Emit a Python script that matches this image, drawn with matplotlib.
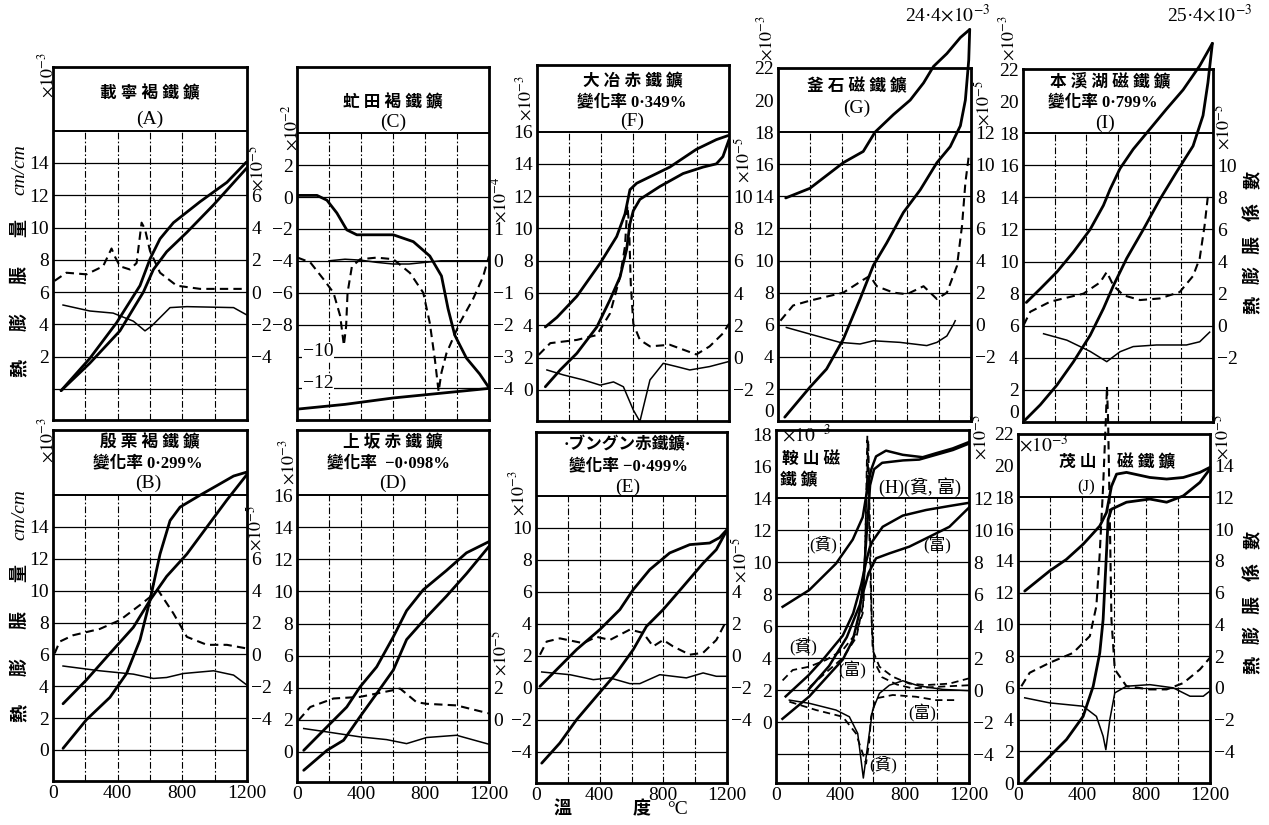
import numpy as np
import matplotlib.pyplot as plt

plt.rcParams['font.family'] = ['Liberation Serif', 'Noto Sans CJK TC', 'DejaVu Sans']
plt.rcParams['mathtext.fontset'] = 'stix'

# ---- data: expansion (left scale) and coefficient (right scale) curves ----
# A 載寧褐鐵鑛
A_heat_t = [50, 228, 393, 538, 600, 662, 745, 910, 1076, 1196]
A_heat = [-0.1, 1.9, 4.1, 6.4, 8.05, 9.3, 10.3, 11.6, 12.8, 14.05]
A_cool_t = [50, 228, 414, 559, 621, 703, 828, 993, 1200]
A_cool = [-0.1, 1.6, 3.6, 6.0, 7.4, 8.5, 9.7, 11.4, 13.7]
A_dash_t = [10, 83, 207, 310, 362, 383, 414, 476, 517, 548, 569, 600, 662, 765, 910, 1200]
A_dash = [0.7, 1.2, 1.1, 1.6, 2.7, 2.2, 1.6, 1.4, 1.8, 4.3, 3.9, 2.55, 1.2, 0.4, 0.2, 0.2]
A_thin_t = [62, 228, 372, 497, 569, 610, 724, 828, 1117, 1196]
A_thin = [-0.8, -1.17, -1.3, -1.8, -2.4, -2.1, -0.96, -0.9, -0.96, -1.4]

# C 虻田褐鐵鑛
C_heat_t = [0, 125, 187, 249, 311, 374, 602, 727, 830, 903, 944, 986, 1059, 1142, 1200]
C_heat = [0.1, 0.1, -0.2, -1.0, -2.06, -2.37, -2.37, -2.8, -3.7, -4.95, -7.0, -8.66, -10.1, -11.1, -11.96]
C_cool_t = [0, 300, 600, 900, 1200]
C_cool = [-13.3, -13.0, -12.6, -12.3, -12.0]
C_dash_t = [4, 83, 166, 228, 270, 293, 307, 316, 343, 395, 498, 602, 706, 789, 830, 862, 885,
            903, 934, 1017, 1100, 1163, 1200]
C_dash = [0.1, -0.05, -0.58, -1.0, -1.73, -2.65, -2.05, -1.0, -0.18, 0.05, 0.1, 0.05, -0.38, -1.0,
          -1.95, -3.1, -4.1, -3.5, -2.9, -1.95, -1.2, -0.5, 0.15]
C_thin_t = [200, 300, 400, 500, 600, 700, 800, 900, 1200]
C_thin = [0.0, 0.05, 0.02, -0.05, -0.1, -0.1, -0.05, 0.0, 0.0]

# F 大冶赤鐵鑛
F_heat_t = [52, 125, 249, 395, 498, 550, 581, 623, 706, 830, 996, 1121, 1194]
F_heat = [3.9, 4.5, 5.8, 7.85, 9.5, 10.9, 12.4, 12.8, 13.2, 13.8, 14.9, 15.5, 15.75]
F_cool_t = [52, 145, 249, 374, 457, 519, 560, 581, 602, 643, 768, 913, 1038, 1121, 1162, 1200]
F_cool = [0.2, 1.24, 2.27, 3.9, 5.6, 7.0, 8.7, 10.3, 11.1, 11.8, 12.6, 13.4, 13.8, 14.0, 14.45, 15.5]
F_dash_t = [10, 83, 249, 374, 457, 519, 550, 565, 575, 586, 602, 643, 706, 830, 913, 996, 1079, 1162, 1200]
F_dash = [0.17, 0.9, 1.1, 1.4, 2.75, 5.0, 6.9, 9.4, 8.3, 4.6, 2.1, 1.1, 0.7, 0.8, 0.5, 0.2, 0.7, 1.5, 2.1]
F_thin_t = [62, 166, 291, 395, 478, 540, 602, 643, 706, 789, 872, 955, 1079, 1194]
F_thin = [-0.76, -1.07, -1.38, -1.7, -1.5, -1.8, -3.24, -3.95, -1.38, -0.35, -0.55, -0.76, -0.55, -0.25]

# G 釜石磁鐵鑛
G_heat_t = [42, 198, 302, 406, 510, 593, 676, 780, 884, 988, 1071, 1134, 1165, 1186, 1192]
G_heat = [0.24, 2.1, 3.24, 5.1, 7.6, 9.7, 11.1, 13.0, 14.4, 16.1, 17.1, 18.4, 20.0, 22.5, 24.4]
G_cool_t = [48, 198, 406, 530, 603, 718, 822, 905, 967, 1050, 1134, 1192]
G_cool = [13.9, 14.5, 16.1, 16.8, 18.0, 19.1, 20.0, 21.07, 22.1, 22.9, 23.9, 24.4]
G_dash_t = [15, 94, 198, 406, 530, 572, 614, 718, 801, 905, 988, 1050, 1113, 1144, 1165, 1186]
G_dash = [0.25, 1.2, 1.5, 2.0, 2.8, 3.05, 2.4, 2.0, 1.9, 2.4, 1.6, 2.0, 3.67, 6.15, 8.85, 10.5]
G_thin_t = [52, 198, 385, 510, 593, 759, 925, 988, 1050, 1092, 1102]
G_thin = [-0.17, -0.58, -1.1, -1.2, -1.0, -1.1, -1.3, -1.1, -0.7, 0.04, 0.25]

# I 本溪湖磁鐵鑛
I_heat_t = [15, 109, 214, 319, 424, 508, 571, 655, 760, 866, 971, 1074, 1137, 1168, 1196]
I_heat = [0.14, 1.07, 2.3, 3.76, 5.4, 7.07, 8.5, 10.2, 12.0, 13.9, 15.6, 17.2, 19.1, 21.15, 23.6]
I_cool_t = [21, 109, 214, 319, 424, 508, 550, 613, 696, 801, 906, 1011, 1116, 1179, 1196]
I_cool = [7.45, 8.3, 9.35, 10.6, 12.0, 13.5, 14.5, 15.8, 17.0, 18.25, 19.5, 20.7, 22.2, 23.3, 23.6]
I_dash_t = [4, 46, 172, 382, 487, 529, 571, 634, 739, 864, 990, 1074, 1116, 1147, 1168]
I_dash = [0.04, 0.87, 1.5, 2.0, 2.7, 3.35, 2.5, 1.9, 1.6, 1.7, 2.1, 3.1, 4.2, 6.25, 8.1]
I_thin_t = [130, 277, 424, 529, 613, 696, 843, 1032, 1116, 1179]
I_thin = [-0.5, -0.9, -1.6, -2.24, -1.62, -1.3, -1.2, -1.2, -1.0, -0.4]

# B 殷栗褐鐵鑛
B_heat_t = [62, 207, 352, 455, 538, 600, 662, 724, 786, 910, 1014, 1117, 1200]
B_heat = [0.1, 1.9, 3.3, 4.8, 6.9, 9.4, 12.3, 14.4, 15.25, 16.0, 16.6, 17.2, 17.45]
B_cool_t = [62, 207, 352, 497, 600, 703, 828, 952, 1076, 1200]
B_cool = [2.9, 4.4, 6.06, 7.7, 9.4, 10.9, 12.3, 14.0, 15.7, 17.3]
B_dash_t = [10, 41, 124, 290, 414, 538, 600, 621, 652, 745, 828, 952, 1076, 1200]
B_dash = [0.06, 0.8, 1.2, 1.6, 2.15, 3.1, 3.6, 4.45, 4.0, 2.57, 1.1, 0.6, 0.6, 0.37]
B_thin_t = [62, 290, 497, 621, 703, 807, 993, 1117, 1200]
B_thin = [-0.73, -1.03, -1.24, -1.51, -1.45, -1.2, -1.03, -1.3, -1.93]

# D 上坂赤鐵鑛
D_heat_t = [42, 187, 291, 394, 498, 602, 685, 810, 934, 1059, 1200]
D_heat = [-1.14, 0.1, 0.73, 2.2, 3.64, 5.1, 7.0, 8.4, 9.7, 11.1, 12.8]
D_cool_t = [42, 187, 311, 394, 498, 602, 685, 789, 934, 1059, 1200]
D_cool = [0.1, 1.56, 2.8, 4.05, 5.3, 7.17, 8.8, 10.1, 11.3, 12.4, 13.1]
D_dash_t = [10, 83, 228, 394, 602, 644, 747, 810, 997, 1200]
D_dash = [-0.02, 0.8, 1.33, 1.43, 1.85, 1.95, 1.1, 1.0, 0.9, 0.4]
D_thin_t = [42, 187, 394, 560, 685, 810, 997, 1200]
D_thin = [-0.54, -0.75, -1.06, -1.23, -1.48, -1.1, -0.96, -1.52]

# E ブングン赤鐵鑛
E_heat_t = [36, 150, 255, 380, 506, 611, 694, 799, 925, 1050, 1133, 1196]
E_heat = [-4.7, -3.44, -1.98, -0.52, 0.94, 2.4, 3.85, 4.9, 6.35, 7.8, 8.65, 9.8]
E_cool_t = [25, 150, 255, 401, 527, 611, 715, 840, 966, 1091, 1154, 1200]
E_cool = [0.1, 1.35, 2.4, 3.65, 4.9, 6.15, 7.4, 8.44, 8.96, 9.06, 9.4, 9.9]
E_dash_t = [25, 67, 150, 297, 380, 464, 590, 673, 736, 799, 861, 966, 1050, 1133, 1196]
E_dash = [0.08, 0.9, 1.1, 0.8, 1.2, 1.0, 1.65, 1.44, 0.6, 1.0, 0.6, 0.08, 0.2, 1.0, 2.2]
E_thin_t = [36, 213, 360, 464, 590, 652, 778, 945, 1050, 1133, 1196]
E_thin = [-1.0, -1.17, -1.48, -1.37, -1.73, -1.73, -1.17, -1.37, -1.06, -1.27, -1.27]

# H 鞍山磁鐵鑛 (貧 = lean ore, 富 = rich ore)
H_poor_heat_t = [40, 207, 415, 477, 518, 545, 565, 585, 610, 660, 790, 890, 995, 1100, 1200]
H_poor_heat = [0.2, 1.6, 3.9, 5.1, 6.8, 9.0, 12.0, 14.8, 15.8, 16.2, 16.35, 16.4, 16.7, 17.0, 17.4]
H_poor_cool_t = [41, 207, 373, 477, 539, 570, 591, 622, 684, 788, 912, 995, 1099, 1200]
H_poor_cool = [7.2, 8.25, 9.9, 11.4, 12.8, 14.7, 15.75, 16.6, 16.96, 16.7, 16.55, 16.8, 17.1, 17.5]
H_rich_heat_t = [60, 200, 300, 415, 480, 530, 560, 580, 600, 663, 788, 933, 1078, 1200]
H_rich_heat = [1.6, 2.9, 4.0, 5.4, 6.8, 8.6, 10.0, 10.8, 11.3, 12.2, 12.9, 13.25, 13.5, 13.7]
H_rich_cool_t = [200, 330, 440, 520, 575, 622, 705, 829, 954, 1078, 1200]
H_rich_cool = [2.0, 3.5, 5.3, 7.3, 9.3, 10.23, 10.54, 10.96, 11.58, 12.2, 13.4]
H_poor_dash_t = [41, 104, 207, 311, 415, 497, 539, 555, 568, 580, 591, 601, 643, 726, 829, 933, 1078, 1200]
H_poor_dash = [0.6, 1.25, 1.46, 1.88, 2.5, 3.54, 4.79, 9.0, 15.9, 10.0, 5.6, 2.5, 1.46, 0.83, 0.4, 0.31, 0.4, 0.73]
H_rich_dash_t = [210, 300, 415, 500, 545, 562, 574, 586, 596, 610, 660, 750, 850, 1000, 1200]
H_rich_dash = [0.2, 1.0, 2.0, 3.3, 5.5, 12.0, 15.6, 9.0, 4.0, 1.8, 0.8, 0.35, 0.1, 0.2, 0.3]
H_rich_cdash_t = [83, 249, 415, 497, 539, 560, 580, 591, 622, 726, 871, 995, 1119]
H_rich_cdash = [-0.73, -1.25, -1.67, -2.71, -3.96, -4.6, -3.2, -1.67, -0.52, -0.31, -0.42, -0.63, -0.63]
H_poor_thin_t = [83, 207, 373, 456, 508, 543, 580, 601, 643, 705, 788, 891, 1037, 1200]
H_poor_thin = [-0.63, -0.83, -1.25, -1.67, -2.71, -5.5, -2.71, -1.25, -0.21, 0.3, 0.58, 0.25, 0.04, -0.04]

# J 茂山磁鐵鑛
J_heat_t = [42, 198, 303, 407, 470, 511, 532, 553, 563, 584, 678, 824, 929, 1033, 1137, 1200]
J_heat = [0.1, 1.68, 2.74, 4.2, 6.1, 8.2, 10.3, 14.5, 16.6, 17.26, 17.7, 17.9, 17.7, 18.1, 18.95, 19.8]
J_cool_t = [42, 198, 303, 407, 511, 553, 584, 616, 678, 824, 929, 1033, 1137, 1200]
J_cool = [12.1, 13.37, 14.1, 15.05, 16.2, 17.05, 18.7, 19.47, 19.58, 19.26, 19.16, 19.26, 19.58, 19.9]
J_dash_t = [21, 73, 198, 344, 449, 490, 511, 532, 549, 556, 563, 574, 584, 605, 678, 824, 929, 1033, 1137, 1200]
J_dash = [0.1, 0.95, 1.58, 2.2, 3.26, 5.16, 8.5, 12.7, 16.9, 19.0, 16.9, 10.6, 4.3, 1.16, 0.1, -0.1, -0.1, 0.3, 1.16, 1.9]
J_thin_t = [42, 198, 407, 490, 532, 549, 574, 605, 678, 824, 970, 1075, 1158, 1200]
J_thin = [-0.63, -0.95, -1.16, -1.8, -3.05, -3.9, -2.0, -0.32, 0.1, 0.2, 0.0, -0.53, -0.53, -0.2]

W, H = 1269, 825
fig = plt.figure(figsize=(W / 100, H / 100), dpi=100)


def label(x, y, s, size=14, **kw):
    kw.setdefault('ha', 'center')
    kw.setdefault('va', 'center')
    fig.text(x / W, 1 - y / H, s, fontsize=size, **kw)


def title(x, y, s, size=12):
    label(x, y, s, size, fontweight='bold')


def panel(box, ylim, sep, shift, factor, lticks, rticks, xlabels):
    x0, x1, y0, y1 = box
    ax = fig.add_axes([x0 / W, 1 - y1 / H, (x1 - x0) / W, (y1 - y0) / H])
    lo, hi = ylim
    ax.set_xlim(0, 1200)
    ax.set_ylim(lo, hi)
    rows = np.arange(np.floor(lo / 2) * 2 + 2, sep, 2)
    ax.hlines(rows, 0, 1200, color='k', lw=0.9)
    ax.hlines(sep, 0, 1200, color='k', lw=1.4)
    ax.vlines(np.arange(200, 1200, 200), lo, sep, color='k', lw=0.8,
              linestyles=[(0, (6, 2, 1.5, 2))])
    for s in ax.spines.values():
        s.set_linewidth(2)
    ax.set_yticks(lticks)
    if xlabels:
        ax.set_xticks([0, 400, 800, 1200])
    else:
        ax.set_xticks([])
    ax.tick_params(length=0, labelsize=14, pad=3)
    tw = ax.twinx()
    tw.set_ylim((lo - shift) * factor, (hi - shift) * factor)
    tw.set_yticks(rticks)
    tw.tick_params(length=0, labelsize=14, pad=3)
    for s in tw.spines.values():
        s.set_visible(False)
    return ax, tw


def curves(ax, tw, heat, cool, dash, thin, clip=True):
    for t, v in (heat, cool):
        ax.plot(t, v, color='k', lw=2.0, clip_on=clip, solid_capstyle='round')
    tw.plot(dash[0], dash[1], color='k', lw=1.5, ls=(0, (4, 2.5)), clip_on=clip)
    tw.plot(thin[0], thin[1], color='k', lw=1.1, clip_on=clip)


def lift_zero(ax):
    # bottom "0" sits on the box edge; keep it clear of the panel below
    ax.yaxis.get_major_ticks()[0].label1.set_verticalalignment('bottom')


# ---- top row ----
ax, tw = panel((53, 247, 67, 420), (-1.92, 19.94), 16, 6, 1,
               np.arange(2, 15, 2), np.arange(-4, 7, 2), False)
curves(ax, tw, (A_heat_t, A_heat), (A_cool_t, A_cool), (A_dash_t, A_dash), (A_thin_t, A_thin))
title(150, 94, '載 寧 褐 鐵 鑛')
label(150, 119, '(A)', 14)

ax, tw = panel((297, 489, 67, 420), (-13.98, 8.15), 4, -4, 0.5,
               np.arange(-8, 3, 2), np.arange(-4, 2, 1), False)
curves(ax, tw, (C_heat_t, C_heat), (C_cool_t, C_cool), (C_dash_t, C_dash), (C_thin_t, C_thin))
for v in (-10, -12):
    ax.text(35, v + 0.3, '−%d' % -v, fontsize=14, ha='left', va='center',
            bbox=dict(fc='white', ec='none', pad=0.5))
title(393, 103, '虻 田 褐 鐵 鑛')
label(393, 122, '(C)', 14)

ax, tw = panel((537, 729, 65, 421), (-1.92, 20.12), 16, 2, 1,
               np.arange(0, 17, 2), np.arange(-2, 11, 2), False)
curves(ax, tw, (F_heat_t, F_heat), (F_cool_t, F_cool), (F_dash_t, F_dash), (F_thin_t, F_thin))
title(633, 82, '大 冶 赤 鐵 鑛')
title(632, 102, '變化率 0·349%')
label(632, 121, '(F)', 14)

ax, tw = panel((778, 971, 68, 421), (0, 22), 18, 6, 1,
               np.arange(0, 23, 2), np.arange(-2, 13, 2), False)
curves(ax, tw, (G_heat_t, G_heat), (G_cool_t, G_cool), (G_dash_t, G_dash), (G_thin_t, G_thin),
       clip=False)
lift_zero(ax)
title(857, 87, '釜 石 磁 鐵 鑛')
label(857, 108, '(G)', 14)
label(948, 15, r'24·4$\times10^{-3}$', 14)

ax, tw = panel((1023, 1213, 69, 422), (0, 22), 18, 6, 1,
               np.arange(0, 23, 2), np.arange(-2, 11, 2), False)
curves(ax, tw, (I_heat_t, I_heat), (I_cool_t, I_cool), (I_dash_t, I_dash), (I_thin_t, I_thin),
       clip=False)
lift_zero(ax)
title(1110, 82, '本 溪 湖 磁 鐵 鑛')
title(1103, 102, '變化率 0·799%')
label(1105, 123, '(I)', 14)
label(1210, 15, r'25·4$\times10^{-3}$', 14)

# ---- bottom row ----
ax, tw = panel((53, 247, 430, 781), (-1.95, 20.09), 16, 6, 1,
               np.arange(0, 15, 2), np.arange(-4, 7, 2), True)
curves(ax, tw, (B_heat_t, B_heat), (B_cool_t, B_cool), (B_dash_t, B_dash), (B_thin_t, B_thin))
title(150, 443, '殷 栗 褐 鐵 鑛')
title(148, 463, '變化率 0·299%')
label(148, 483, '(B)', 14)

ax, tw = panel((297, 489, 430, 782), (-1.87, 20.05), 16, 2, 1,
               np.arange(0, 17, 2), [0, 2], True)
curves(ax, tw, (D_heat_t, D_heat), (D_cool_t, D_cool), (D_dash_t, D_dash), (D_thin_t, D_thin))
title(393, 443, '上 坂 赤 鐵 鑛')
title(388, 463, '變化率  −0·098%')
label(393, 483, '(D)', 14)

ax, tw = panel((536, 727, 432, 783), (-5.94, 16.0), 12, 2, 1,
               np.arange(-4, 11, 2), np.arange(-4, 5, 2), True)
curves(ax, tw, (E_heat_t, E_heat), (E_cool_t, E_cool), (E_dash_t, E_dash), (E_thin_t, E_thin))
title(627, 445, '·ブングン赤鐵鑛·')
title(628, 466, '變化率 −0·499%')
label(628, 487, '(E)', 14)

ax, tw = panel((776, 969, 430, 783), (-3.81, 18.25), 14, 2, 1,
               np.arange(0, 19, 2), np.arange(-4, 13, 2), True)
for t, v in ((H_poor_heat_t, H_poor_heat), (H_poor_cool_t, H_poor_cool),
             (H_rich_heat_t, H_rich_heat), (H_rich_cool_t, H_rich_cool)):
    ax.plot(t, v, color='k', lw=1.8)
for t, v in ((H_poor_dash_t, H_poor_dash), (H_rich_dash_t, H_rich_dash),
             (H_rich_cdash_t, H_rich_cdash)):
    tw.plot(t, v, color='k', lw=1.3, ls=(0, (4, 2.5)))
tw.plot(H_poor_thin_t, H_poor_thin, color='k', lw=1.1)
label(782, 435, r'$\times10^{-3}$', 14, ha='left')
title(811, 460, '鞍 山 磁')
title(799, 481, '鐵 鑛')
label(920, 487, '(H)(貧, 富)', 13)
label(823, 545, '(貧)', 12)
label(937, 545, '(富)', 12)
label(803, 647, '(貧)', 12)
label(852, 670, '(富)', 12)
label(922, 713, '(富)', 12)
label(883, 765, '(貧)', 12)

ax, tw = panel((1018, 1210, 434, 783), (0, 22), 18, 6, 1,
               np.arange(0, 23, 2), np.arange(-4, 15, 2), True)
curves(ax, tw, (J_heat_t, J_heat), (J_cool_t, J_cool), (J_dash_t, J_dash), (J_thin_t, J_thin),
       clip=False)
label(1044, 445, r'$\times10^{-3}$', 14)
title(1078, 463, '茂 山')
title(1146, 463, '磁 鐵 鑛')
label(1086, 487, '(J)', 12)

# ---- scale multipliers beside the axes ----
for x, y, e in [(47, 75, -3), (257, 168, -5), (291, 128, -2), (500, 200, -4),
                (525, 98, -3), (743, 160, -5), (766, 38, -3), (983, 103, -5),
                (1008, 38, -3), (1223, 127, -5), (47, 440, -3), (255, 528, -5),
                (288, 462, -3), (500, 653, -5), (518, 493, -3), (740, 560, -5),
                (980, 437, -5), (1222, 437, -5)]:
    label(x, y, r'$\times10^{%d}$' % e, 13, rotation=90)

# ---- axis titles ----
for y0 in (0, 345):
    for ch, y in zip('熱膨脹量', (368, 322, 275, 228)):
        label(20, y + y0, ch, 13, rotation=90, fontweight='bold')
    label(20, 170 + y0, 'cm/cm', 14, rotation=90, style='italic')
for y0 in (0, 360):
    for ch, y in zip('熱膨脹係數', (305, 275, 245, 212, 180)):
        label(1253, y + y0, ch, 13, rotation=90, fontweight='bold')
label(563, 810, '溫', 13, fontweight='bold')
label(642, 810, '度', 13, fontweight='bold')
label(678, 810, '°C', 14)

fig.savefig('out.png', dpi=100)
